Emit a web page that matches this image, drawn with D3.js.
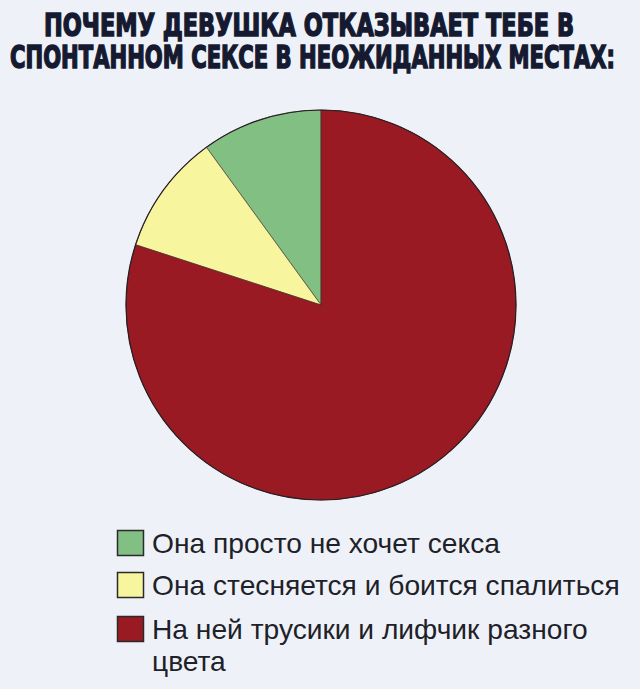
<!DOCTYPE html>
<html><head><meta charset="utf-8">
<script src="https://cdn.jsdelivr.net/npm/d3@7"></script>
<style>
html,body{margin:0;padding:0;background:#eef2f8;}
svg{display:block;}
</style></head>
<body>
<svg id="chart" width="640" height="689"></svg>
<script>
const titleLines = ["ПОЧЕМУ ДЕВУШКА ОТКАЗЫВАЕТ ТЕБЕ В", "СПОНТАННОМ СЕКСЕ В НЕОЖИДАННЫХ МЕСТАХ:"];
const categories = ["Она просто не хочет секса", "Она стесняется и боится спалиться", "На ней трусики и лифчик разного цвета"];
const legendLines = [["Она просто не хочет секса"], ["Она стесняется и боится спалиться"], ["На ней трусики и лифчик разного", "цвета"]];
const values = [10, 10, 80];
const colors = ["#82bf82", "#f7f59e", "#9a1a23"];

const svg = d3.select("#chart");
svg.append("rect").attr("width",640).attr("height",689).attr("fill","#eef2f8");

// Title: one text element, two lines, stretched vertically for a tall condensed look
const titleSpecs = [{y:36, x:44, w:530},{y:68, x:10, w:605}];
const vScale = 1.3;
const title = svg.append("text")
  .attr("transform", `scale(1,${vScale})`)
  .attr("font-family","'DejaVu Sans Condensed','DejaVu Sans',sans-serif")
  .attr("font-weight","bold")
  .attr("font-size", 24)
  .attr("fill","#151a30")
  .attr("stroke","#151a30").attr("stroke-width",1.1);
titleLines.forEach((t,i)=>{
  title.append("tspan")
    .attr("x", titleSpecs[i].x).attr("y", titleSpecs[i].y / vScale)
    .attr("textLength", titleSpecs[i].w)
    .attr("lengthAdjust","spacingAndGlyphs")
    .text(t);
});

// Pie
const cx = 321, cy = 305, r = 195;
const pie = d3.pie().sort(null).value(d=>d.v).startAngle(0).endAngle(-2*Math.PI);
const arcs = pie(categories.map((c,i)=>({c, v: values[i], col: colors[i]})));
const arc = d3.arc().innerRadius(0).outerRadius(r);
const g = svg.append("g").attr("transform",`translate(${cx},${cy})`);
g.selectAll("path").data(arcs).join("path")
  .attr("d", arc)
  .attr("fill", d=>d.data.col)
  .attr("stroke","#3a2a2a").attr("stroke-width",0.6);
g.append("circle").attr("r", r).attr("fill","none").attr("stroke","#2a1d22").attr("stroke-width",1.2);

// Legend
const leg = svg.append("g");
const rowY = [553, 595, 639];
const font = "'Liberation Sans', Arial, Helvetica, sans-serif";
legendLines.forEach((lines,i)=>{
  leg.append("rect").attr("x",117.5).attr("y",rowY[i]-22.5).attr("width",26).attr("height",25)
    .attr("fill",colors[i]).attr("stroke","#2a2a2a").attr("stroke-width",1.5);
  lines.forEach((ln,j)=>{
    leg.append("text").attr("class","lt")
      .attr("x",152).attr("y",rowY[i] + j*32)
      .attr("font-family",font).attr("font-size",25)
      .attr("fill","#1e2128")
      .text(ln);
  });
});
const first = leg.select("text.lt").node();
const w = first.getComputedTextLength();
const fs = 25 * 348 / w;
leg.selectAll("text.lt").attr("font-size", fs);
</script>
</body></html>
